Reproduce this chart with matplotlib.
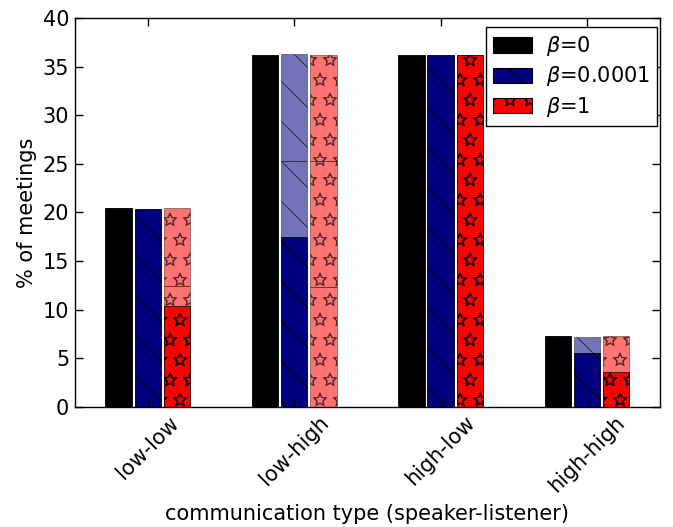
import matplotlib
matplotlib.use("Agg")
import matplotlib.pyplot as plt
import matplotlib.hatch as mhatch
import numpy as np

# outline stars (as in the reference)
mhatch.Stars.filled = False

categories = ["low-low", "low-high", "high-low", "high-high"]
series_labels = [r"$\beta$=0", r"$\beta$=0.0001", r"$\beta$=1"]
colors = ["black", "#000080", "#ff0000"]
hatches = ["", "\\", "*"]

# light (semi-transparent) stacked segments per series, per category
light_segments = [
    [[20.4], [36.2], [36.2], [7.3]],
    [[20.3], [12.3, 13.0, 11.0], [36.2], [7.2]],
    [[12.4, 8.0], [12.3, 13.0, 10.9], [36.2], [7.3]],
]
# dark (opaque) portion per series, per category
dark_values = [
    [20.4, 36.2, 36.2, 7.3],
    [20.3, 17.5, 36.2, 5.5],
    [10.4, 0.0, 36.2, 3.6],
]

DPI = 120
k = 100.0 / DPI  # keep text sizes as at 100 dpi
FS = 15 * k
plt.rcParams['hatch.linewidth'] = 0.8 * k
fig = plt.figure(figsize=(673 / DPI, 527 / DPI), dpi=DPI)
ax = fig.add_axes([0.111, 0.228, 0.870, 0.738])

x = np.arange(len(categories))
slot = 0.2
width = 0.18
for s in range(3):
    pos = x + (s - 1) * slot
    for c in range(len(categories)):
        bottom = 0.0
        for seg in light_segments[s][c]:
            ax.bar(pos[c], seg, width, bottom=bottom, color=colors[s], alpha=0.55,
                   edgecolor="black", linewidth=0.5 * k, hatch=hatches[s])
            bottom += seg
        if dark_values[s][c] > 0:
            ax.bar(pos[c], dark_values[s][c], width, color=colors[s],
                   edgecolor="black", linewidth=0.5 * k, hatch=hatches[s])

from matplotlib.patches import Patch
handles = [Patch(facecolor=colors[s], edgecolor="black", hatch=hatches[s], linewidth=0.8 * k)
           for s in range(3)]
leg = ax.legend(handles, series_labels, loc="upper right",
                bbox_to_anchor=(0.995, 0.977), fontsize=FS,
                fancybox=False, framealpha=1, edgecolor="black",
                handlelength=1.9, handleheight=0.75, handletextpad=0.65,
                borderaxespad=0.0, labelspacing=0.3, borderpad=0.35)
leg.get_frame().set_linewidth(1.0 * k)

ax.set_xlim(-0.5, 3.5)
ax.set_ylim(0, 40)
ax.set_yticks(np.arange(0, 41, 5))
ax.set_xticks(x)
ax.set_xticklabels(categories, rotation=45, fontsize=FS)
ax.tick_params(axis="y", labelsize=FS)
ax.tick_params(direction="in", top=True, right=True, length=6 * k, width=1 * k,
               pad=4 * k)
ax.set_ylabel("% of meetings", fontsize=FS, labelpad=4 * k)
ax.set_xlabel("communication type (speaker-listener)", fontsize=FS, labelpad=6 * k)
for sp in ax.spines.values():
    sp.set_linewidth(1.0 * k)

fig.savefig("out.png", dpi=DPI)
